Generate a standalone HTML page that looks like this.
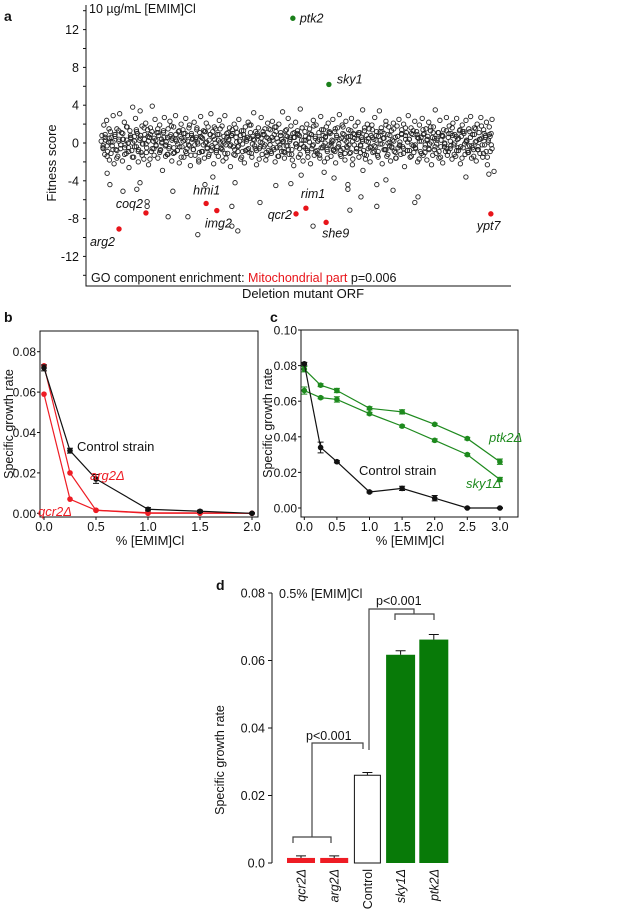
<!DOCTYPE html>
<html><head><meta charset="utf-8">
<style>
html,body{margin:0;padding:0;background:#fff;}
svg{display:block;font-family:"Liberation Sans",Arial,sans-serif;}
text{fill:#111;}
</style></head>
<body>
<svg id="fig" width="638" height="909" viewBox="0 0 638 909" xmlns="http://www.w3.org/2000/svg">
<g id="pa"></g>
<g id="pb"></g>
<g id="pc"></g>
<g id="pd"></g>
</svg>
<script>
// ---------- Panel a data ----------
const aTicks = [12, 8, 4, 0, -4, -8, -12];
const aCloud = [0.8,-0.5,1.9,-1.2,0.3,2.4,-0.9,0.1,-1.8,1.2,0.6,-0.3,2.9,-2.2,0.9,-0.7,1.5,-1.4,0.2,3.1,
-0.6,1.1,-1.9,0.4,2.2,-0.2,-1.1,1.7,0.0,-2.6,1.3,0.5,-0.8,3.8,-1.5,0.7,2.6,-0.4,1.0,-2.0,
0.3,3.4,-1.0,1.8,-0.1,-1.7,0.9,2.1,-0.5,1.4,-2.3,0.6,1.6,-0.9,3.9,0.2,-1.3,2.5,-0.2,1.1,
-1.6,0.8,1.9,-0.7,0.4,-2.9,1.3,2.7,-0.3,0.1,-1.2,1.5,-0.6,2.3,0.9,-1.9,0.5,1.7,-1.0,2.9,
0.2,-0.8,1.2,-2.1,0.7,2.0,-0.4,1.4,-1.5,0.3,2.6,-1.1,0.8,-0.2,1.9,-2.4,1.0,0.4,-0.7,2.2,
-1.3,0.6,1.6,-0.1,-2.0,1.1,2.8,-0.9,0.5,1.3,-1.6,0.0,2.1,-0.5,1.7,-1.2,0.9,3.1,-0.3,1.2,
-2.2,0.4,1.5,-0.8,0.9,-1.4,2.4,0.1,-0.6,1.8,-1.9,0.7,2.9,-0.2,1.0,-1.1,0.3,1.6,-2.5,0.8,
1.4,-0.4,2.0,-1.3,0.6,1.1,-0.9,2.5,0.2,-1.7,1.3,-0.1,0.9,-2.1,1.7,0.4,-0.7,2.2,-1.0,0.5,
1.9,-1.5,0.7,3.2,-0.3,1.2,-2.3,0.8,1.6,-0.6,0.1,2.7,-1.2,0.9,-0.4,1.5,-1.8,0.6,2.1,-0.8,
0.3,1.4,-1.1,2.3,-0.5,0.9,-2.0,1.7,0.5,-1.4,2.0,-0.2,1.1,-0.9,3.3,0.2,-1.6,1.3,-0.3,0.7,
2.6,-1.2,0.4,1.8,-0.7,1.0,-2.4,0.6,2.2,-0.4,1.3,-1.5,0.8,3.6,-0.1,1.6,-1.9,0.3,1.2,-0.6,
2.0,-1.0,0.5,1.5,-2.2,0.9,-0.3,2.4,-1.3,0.7,1.9,-0.8,0.2,1.1,-1.6,2.8,0.4,-0.5,1.4,-2.0,
0.6,1.7,-0.9,2.1,-0.2,1.0,-1.4,0.3,2.5,-0.7,1.2,-2.1,0.8,1.6,-0.4,3.0,-1.2,0.5,1.9,-0.6,
0.9,-1.8,2.3,0.1,-0.5,1.4,-1.1,0.7,2.6,-2.3,1.0,-0.2,1.8,-0.9,0.4,2.2,-1.5,1.1,-0.3,0.6,
3.5,-0.8,1.3,-1.7,0.2,2.0,-0.6,1.5,-2.0,0.8,1.9,-1.0,0.4,2.7,-0.4,1.2,-1.3,0.7,3.4,-0.1,
1.6,-2.2,0.5,1.0,-0.7,2.3,-1.4,0.9,1.7,-0.3,-1.9,1.3,0.3,2.1,-0.9,0.6,-1.6,1.8,-0.5,2.5,
0.1,-1.2,1.4,-0.4,2.0,-2.5,0.8,1.1,-0.8,2.9,0.4,-1.5,1.6,-0.2,0.9,-1.0,2.3,-0.6,1.2,-2.0,
0.5,1.9,-0.9,0.2,2.6,-1.3,1.0,-0.5,1.5,-1.8,0.7,2.2,-0.1,1.3,-2.3,0.6,1.7,-0.7,3.5,-1.1,
0.3,1.1,-1.6,2.4,-0.4,0.8,-2.1,1.4,0.0,-0.9,2.7,-1.3,0.6,1.8,-0.6,1.0,-1.7,2.1,-0.2,0.9,
-1.4,2.6,0.4,-0.8,1.3,-2.2,0.7,1.9,-0.5,1.2,-1.2,2.4,0.2,-1.0,1.5,-0.3,2.8,-1.6,0.9,-0.7,
1.6,0.1,-1.9,2.0,-0.4,1.1,-1.1,2.7,0.5,-1.5,1.4,-0.2,0.8,2.2,-2.3,0.3,1.7,-0.9,1.0,2.5];
const aCore = [0.2,-0.6,0.9,-0.3,0.5,-1.1,0.1,0.7,-0.8,0.4,-0.2,1.0,-0.5,0.3,-0.9,0.6,0.0,-0.4,1.2,-0.7,
0.8,-0.1,0.4,-1.0,0.2,0.9,-0.6,0.5,-0.3,1.1,-0.8,0.1,0.6,-0.2,-1.2,0.7,0.3,-0.5,0.9,-0.1,
-0.4,0.5,1.0,-0.9,0.2,-0.3,0.8,-0.7,0.4,0.1,-1.0,0.6,-0.2,1.2,-0.6,0.3,-0.8,0.7,0.0,-0.4,
0.9,-0.5,0.2,-1.1,0.6,0.4,-0.2,1.0,-0.7,0.1,-0.3,0.8,-0.9,0.5,0.2,-0.6,1.1,-0.1,0.3,-0.8,
0.7,-0.4,0.0,0.9,-1.0,0.5,-0.2,0.6,-0.7,1.2,0.1,-0.5,0.4,-0.9,0.8,-0.3,0.2,-1.2,0.6,-0.1,
1.0,-0.6,0.3,-0.4,0.7,-0.8,0.1,0.9,-0.2,0.5,-1.1,0.4,-0.5,0.8,0.0,-0.7,1.1,-0.3,0.2,-0.9,
0.6,-0.1,-0.8,1.0,0.3,-0.4,0.7,-1.0,0.2,0.5,-0.6,0.9,-0.2,0.4,-1.2,0.8,0.1,-0.5,0.6,-0.3,
0.3,-0.9,1.2,-0.1,0.5,-0.7,0.0,0.8,-0.4,0.2,-1.0,0.7,-0.2,0.9,-0.6,0.4,0.1,-0.8,1.0,-0.3,
-0.5,0.6,0.2,-1.1,0.9,-0.2,0.4,-0.7,0.1,1.1,-0.4,0.5,-0.9,0.3,0.7,-0.1,-0.6,1.0,-0.3,0.8,
0.0,-0.8,0.5,-0.4,1.2,-0.1,0.3,-1.0,0.6,-0.5,0.9,0.2,-0.7,0.4,-0.2,1.0,-0.9,0.1,0.7,-0.6];
const aCore2 = [-0.3,0.6,-1.4,1.5,0.1,-0.7,0.9,-1.6,1.3,-0.2,0.4,-1.2,1.7,-0.5,0.8,-1.5,0.2,1.4,-0.9,0.5,
-1.3,1.6,-0.1,0.7,-1.7,1.2,-0.6,0.3,1.5,-1.0,0.0,1.1,-1.4,0.6,-0.4,1.8,-1.1,0.4,-0.8,1.3,
-1.5,0.2,1.0,-0.6,1.6,-1.3,0.5,-0.2,1.4,-1.8,0.7,-0.9,1.2,0.1,-1.4,0.9,-0.5,1.7,-1.0,0.3,
1.5,-0.7,0.0,-1.6,1.1,-0.3,0.8,-1.2,1.6,-0.4,0.2,-1.5,1.3,-0.8,0.6,1.9,-1.1,0.4,-0.6,1.0,
-1.7,0.5,1.2,-0.2,-1.3,1.5,-0.9,0.3,1.7,-0.5,-1.4,0.8,0.1,-1.0,1.4,-0.7,0.6,-1.8,1.1,-0.1,
0.9,-1.2,1.6,-0.4,0.3,-1.5,1.0,-0.6,1.8,-0.9,0.2,-1.3,1.4,-0.3,0.7,-1.6,1.2,0.0,-0.8,1.5,
-0.5,0.4,-1.4,1.7,-1.1,0.6,-0.2,1.3,-1.7,0.9,-0.6,1.1,-1.0,0.2,1.6,-1.3,0.5,-0.4,1.4,-0.9,
0.8,-1.5,0.3,1.2,-0.7,1.9,-1.2,0.1,-0.5,1.5,-1.6,0.7,-0.3,1.0,-1.1,1.6,-0.8,0.4,-1.4,1.3,
-0.2,0.9,-1.7,0.6,1.4,-1.0,0.3,-0.6,1.7,-1.3,0.5,-0.1,1.1,-1.5,0.8,-0.4,1.3,-0.9,0.2,1.6,
-1.2,0.7,-0.5,1.4,-1.6,1.0,0.1,-0.8,1.2,-0.3,-1.4,1.5,-0.7,0.4,1.8,-1.1,0.6,-1.5,0.9,-0.2];
const aOutIdx = [25,58,18,119,119,93,101,172,184,222,247,265,285,333,333,348,341,404,444,482,508,538,566,591,626,626,631,659,664,699,699,722,740,795,803,924,982,995];
const aOutVal = [-4.4,-5.1,-3.2,-6.2,-6.7,-4.9,-4.2,-7.8,-5.1,-7.8,-9.7,-4.4,-3.6,-6.7,-8.8,-9.3,-4.2,-6.3,-4.5,-4.3,-3.4,-8.8,-3.1,-3.7,-4.4,-4.9,-7.1,-5.7,-2.9,-4.4,-6.7,-3.9,-5.0,-6.3,-5.7,-3.6,-3.3,-3.0];
const aHitNames = ["ptk2","sky1","arg2","coq2","hmi1","img2","qcr2","rim1","she9","ypt7"];
const aHitIdx = [487,578,48,116,268,295,495,520,571,987];
const aHitVal = [13.2,6.2,-9.1,-7.4,-6.4,-7.15,-7.5,-6.9,-8.4,-7.5];
const aHitColor = ["#1a7f1a","#1a7f1a","#e8141a","#e8141a","#e8141a","#e8141a","#e8141a","#e8141a","#e8141a","#e8141a"];
// ---------- Panel b data ----------
const bX = [0, 0.25, 0.5, 1.0, 1.5, 2.0];
const bControl = [0.072, 0.031, 0.017, 0.002, 0.001, 0.0];
const bControlErr = [0.0015, 0.0012, 0.0022, 0.0008, 0.0006, 0.0003];
const bArg2 = [0.073, 0.020, 0.0015, 0.0003, 0.0002, 0.0];
const bQcr2 = [0.059, 0.007, 0.0015, 0.0, 0.0, 0.0];
const bTicksY = [0.00, 0.02, 0.04, 0.06, 0.08];
const bTicksX = [0.0, 0.5, 1.0, 1.5, 2.0];
// ---------- Panel c data ----------
const cX = [0, 0.25, 0.5, 1.0, 1.5, 2.0, 2.5, 3.0];
const cControl = [0.081, 0.034, 0.026, 0.009, 0.011, 0.0055, 0.0, 0.0];
const cControlErr = [0.0008, 0.003, 0.0006, 0.0005, 0.0012, 0.0015, 0.0003, 0.0003];
const cPtk2 = [0.078, 0.069, 0.066, 0.056, 0.054, 0.047, 0.039, 0.026];
const cPtk2Err = [0.0015, 0.0008, 0.0012, 0.0009, 0.0012, 0.0006, 0.0007, 0.0015];
const cSky1 = [0.066, 0.062, 0.061, 0.053, 0.046, 0.038, 0.030, 0.016];
const cSky1Err = [0.002, 0.0006, 0.0015, 0.0007, 0.0006, 0.0008, 0.0006, 0.0012];
const cTicksY = [0.00, 0.02, 0.04, 0.06, 0.08, 0.10];
const cTicksX = [0.0, 0.5, 1.0, 1.5, 2.0, 2.5, 3.0];
// ---------- Panel d data ----------
const dCats = ["qcr2Δ", "arg2Δ", "Control", "sky1Δ", "ptk2Δ"];
const dVals = [0.0015, 0.0015, 0.026, 0.0617, 0.0662];
const dErr = [0.0006, 0.0006, 0.0008, 0.0012, 0.0015];
const dTicks = [0.0, 0.02, 0.04, 0.06, 0.08];

const NS = "http://www.w3.org/2000/svg";
function mk(parent, tag, attrs, txt) {
  const e = document.createElementNS(NS, tag);
  for (const k in attrs) e.setAttribute(k, attrs[k]);
  if (txt !== undefined) e.textContent = txt;
  parent.appendChild(e);
  return e;
}

// ===== Panel a =====
(function () {
  const g = document.getElementById('pa');
  const y = v => 143 - v * 9.45;
  const x = i => 100 + i * 0.396;
  let t = mk(g, 'text', {x: 4, y: 21, 'font-size': 14, 'font-weight': 'bold'}, 'a');
  
  
  let ax = mk(g, 'path', {d: 'M86,5 V286 H511', fill: 'none', stroke: '#111', 'stroke-width': 1});
  
  
  for (let v = 14; v >= -14; v -= 2) {
    const tk = mk(g, 'line', {x1: 83, x2: 86, y1: y(v), y2: y(v), stroke: '#111', 'stroke-width': 1});
    
    
  }
  aTicks.forEach(v => {
    const tl = mk(g, 'text', {x: 79, y: y(v) + 4.5, 'font-size': 12.5, 'text-anchor': 'end'}, String(v));
    
    
  });
  t = mk(g, 'text', {x: 56, y: 163, 'font-size': 13, 'text-anchor': 'middle', transform: 'rotate(-90 56 163)'}, 'Fitness score');
  
  
  t = mk(g, 'text', {x: 303, y: 298, 'font-size': 13, 'text-anchor': 'middle'}, 'Deletion mutant ORF');
  
  
  t = mk(g, 'text', {x: 89, y: 13, 'font-size': 12.5}, '10 µg/mL [EMIM]Cl');
  
  
  t = mk(g, 'text', {x: 91, y: 282, 'font-size': 12.5});
  
  
  mk(t, 'tspan', {}, 'GO component enrichment: ');
  mk(t, 'tspan', {fill: '#e8141a', style: 'fill:#e8141a'}, 'Mitochondrial part');
  mk(t, 'tspan', {}, ' p=0.006');
  const cg = mk(g, 'g', {fill: 'none', stroke: '#222', 'stroke-width': 0.9});
  
  
  [[aCloud, 5, 985], [aCore, 3, 987], [aCore2, 8, 980]].forEach(([arr, s, span]) => {
    const n = arr.length;
    arr.forEach((v, i) => {
      const c = mk(cg, 'circle', {cx: x(s + i * span / (n - 1)), cy: y(v), r: 2.2});
      
      
    });
  });
  aOutIdx.forEach((ix, i) => {
    const c = mk(cg, 'circle', {cx: x(ix), cy: y(aOutVal[i]), r: 2.2});
    
    
  });
  const lblOff = {ptk2: [7, 4, 'start'], sky1: [8, -1, 'start'], arg2: [-4, 17, 'end'], coq2: [-3, -5, 'end'],
    hmi1: [-13, -9, 'start'], img2: [-12, 17, 'start'], qcr2: [-4, 5, 'end'], rim1: [-5, -10, 'start'],
    she9: [-4, 15, 'start'], ypt7: [-14, 16, 'start']};
  aHitNames.forEach((nm, i) => {
    const cx = x(aHitIdx[i]), cy = y(aHitVal[i]);
    const c = mk(g, 'circle', {cx: cx, cy: cy, r: 2.7, fill: aHitColor[i]});
    
    
    const o = lblOff[nm];
    const l = mk(g, 'text', {x: cx + o[0], y: cy + o[1], 'font-size': 12.5, 'font-style': 'italic', 'text-anchor': o[2]}, nm);
    
    
  });
})();

function linePanel(g, xs, ys, series, opts) {
  series.forEach(s => {
    const pts = opts.xv.map((v, i) => xs(v) + ',' + ys(s.vals[i])).join(' ');
    const pl = mk(g, 'polyline', {points: pts, fill: 'none', stroke: s.color, 'stroke-width': 1.2});
    
    
    s.vals.forEach((v, i) => {
      if (s.err) {
        const e = s.err[i], px = xs(opts.xv[i]);
        const eb = mk(g, 'path', {d: `M${px},${ys(v + e)}V${ys(v - e)}M${px - 3},${ys(v + e)}H${px + 3}M${px - 3},${ys(v - e)}H${px + 3}`, stroke: s.color, 'stroke-width': 1, fill: 'none'});
        
        
      }
      const c = mk(g, 'circle', {cx: xs(opts.xv[i]), cy: ys(v), r: 2.8, fill: s.color});
      
      
    });
  });
}
function axesBox(g, box, xs, ys, tx, ty, fmtY, fmtX) {
  const r = mk(g, 'rect', {x: box[0], y: box[1], width: box[2] - box[0], height: box[3] - box[1], fill: 'none', stroke: '#111', 'stroke-width': 1});
  
  
  ty.forEach(v => {
    const tk = mk(g, 'line', {x1: box[0] - 3, x2: box[0], y1: ys(v), y2: ys(v), stroke: '#111'});
    
    
    const tl = mk(g, 'text', {x: box[0] - 4, y: ys(v) + 4.5, 'font-size': 12, 'text-anchor': 'end'}, fmtY(v));
    
    
  });
  tx.forEach(v => {
    const tk = mk(g, 'line', {x1: xs(v), x2: xs(v), y1: box[3], y2: box[3] + 3, stroke: '#111'});
    
    
    const tl = mk(g, 'text', {x: xs(v), y: box[3] + 14, 'font-size': 12.5, 'text-anchor': 'middle'}, fmtX(v));
    
    
  });
}

// ===== Panel b =====
(function () {
  const g = document.getElementById('pb');
  const xs = v => 44 + v * 104;
  const ys = v => 513.3 - v * 2020;
  let t = mk(g, 'text', {x: 4, y: 322, 'font-size': 14, 'font-weight': 'bold'}, 'b');
  
  
  axesBox(g, [40, 331, 258, 517], xs, ys, bTicksX, bTicksY, v => v.toFixed(2), v => v.toFixed(1));
  linePanel(g, xs, ys, [
    {name: 'qcr2', vals: bQcr2, color: '#ee1c24'},
    {name: 'arg2', vals: bArg2, color: '#ee1c24'},
    {name: 'control', vals: bControl, err: bControlErr, color: '#111'}
  ], {xv: bX});
  t = mk(g, 'text', {x: 150, y: 545, 'font-size': 13, 'text-anchor': 'middle'}, '% [EMIM]Cl');
  
  
  t = mk(g, 'text', {x: 13, y: 424, 'font-size': 12.5, 'text-anchor': 'middle', transform: 'rotate(-90 13 424)'}, 'Specific growth rate');
  
  
  t = mk(g, 'text', {x: 77, y: 451, 'font-size': 13}, 'Control strain');
  
  
  t = mk(g, 'text', {x: 90, y: 480, 'font-size': 13, 'font-style': 'italic', fill: '#ee1c24', style: 'fill:#ee1c24'}, 'arg2Δ');
  
  
  t = mk(g, 'text', {x: 38, y: 516, 'font-size': 13, 'font-style': 'italic', fill: '#ee1c24', style: 'fill:#ee1c24'}, 'qcr2Δ');
  
  
})();

// ===== Panel c =====
(function () {
  const g = document.getElementById('pc');
  const xs = v => 304.3 + v * 65.2;
  const ys = v => 508 - v * 1780;
  let t = mk(g, 'text', {x: 270, y: 322, 'font-size': 14, 'font-weight': 'bold'}, 'c');
  
  
  axesBox(g, [301, 330, 518, 517], xs, ys, cTicksX, cTicksY, v => v.toFixed(2), v => v.toFixed(1));
  linePanel(g, xs, ys, [
    {name: 'sky1', vals: cSky1, err: cSky1Err, color: '#1e8a1e'},
    {name: 'ptk2', vals: cPtk2, err: cPtk2Err, color: '#1e8a1e'},
    {name: 'control', vals: cControl, err: cControlErr, color: '#111'}
  ], {xv: cX});
  t = mk(g, 'text', {x: 410, y: 545, 'font-size': 13, 'text-anchor': 'middle'}, '% [EMIM]Cl');
  
  
  t = mk(g, 'text', {x: 272, y: 423, 'font-size': 12.5, 'text-anchor': 'middle', transform: 'rotate(-90 272 423)'}, 'Specific growth rate');
  
  
  t = mk(g, 'text', {x: 359, y: 475, 'font-size': 13}, 'Control strain');
  
  
  t = mk(g, 'text', {x: 489, y: 442, 'font-size': 13, 'font-style': 'italic', fill: '#1e8a1e', style: 'fill:#1e8a1e'}, 'ptk2Δ');
  
  
  t = mk(g, 'text', {x: 466, y: 488, 'font-size': 13, 'font-style': 'italic', fill: '#1e8a1e', style: 'fill:#1e8a1e'}, 'sky1Δ');
  
  
})();

// ===== Panel d =====
(function () {
  const g = document.getElementById('pd');
  const ys = v => 863 - v * 3375;
  const bx = i => 301 + i * 33.2;
  const bw = [28, 28, 26, 29, 29];
  const fills = ['#ee1c24', '#ee1c24', '#fff', '#087a08', '#087a08'];
  let t = mk(g, 'text', {x: 216, y: 590, 'font-size': 14, 'font-weight': 'bold'}, 'd');
  
  
  const ax = mk(g, 'line', {x1: 272, x2: 272, y1: ys(0.08), y2: ys(0), stroke: '#111'});
  
  
  dTicks.forEach(v => {
    const tk = mk(g, 'line', {x1: 268, x2: 272, y1: ys(v), y2: ys(v), stroke: '#111'});
    
    
    const tl = mk(g, 'text', {x: 265, y: ys(v) + 4.5, 'font-size': 12.5, 'text-anchor': 'end'}, v === 0 ? '0.0' : v.toFixed(2));
    
    
  });
  t = mk(g, 'text', {x: 224, y: 760, 'font-size': 12.5, 'text-anchor': 'middle', transform: 'rotate(-90 224 760)'}, 'Specific growth rate');
  
  
  t = mk(g, 'text', {x: 279, y: 598, 'font-size': 12.5}, '0.5% [EMIM]Cl');
  
  
  dVals.forEach((v, i) => {
    const cx = bx(i), w = bw[i];
    const r = mk(g, 'rect', {x: cx - w / 2, y: ys(v), width: w, height: ys(0) - ys(v), fill: fills[i], stroke: i === 2 ? '#111' : 'none', 'stroke-width': 1});
    
    
    const e = dErr[i];
    const eb = mk(g, 'path', {d: `M${cx},${ys(v)}V${ys(v + e)}M${cx - 5},${ys(v + e)}H${cx + 5}`, stroke: '#111', fill: 'none'});
    
    
    const lbl = mk(g, 'text', {x: 0, y: 0, 'font-size': 12.5, 'text-anchor': 'end', 'font-style': i === 2 ? 'normal' : 'italic', transform: `translate(${cx + 4.5},869) rotate(-90)`}, dCats[i]);
    
    
  });
  const br = mk(g, 'path', {d: 'M293,843V837H331V843M312,837V743H363V749', stroke: '#444', 'stroke-width': 1.2, fill: 'none'});
  
  
  t = mk(g, 'text', {x: 306, y: 740, 'font-size': 12.5}, 'p<0.001');
  
  
  const br2 = mk(g, 'path', {d: 'M369,750V609H414V614M395,620V614H434V620', stroke: '#444', 'stroke-width': 1.2, fill: 'none'});
  
  
  t = mk(g, 'text', {x: 376, y: 605, 'font-size': 12.5}, 'p<0.001');
  
  
})();
</script>
</body></html>
